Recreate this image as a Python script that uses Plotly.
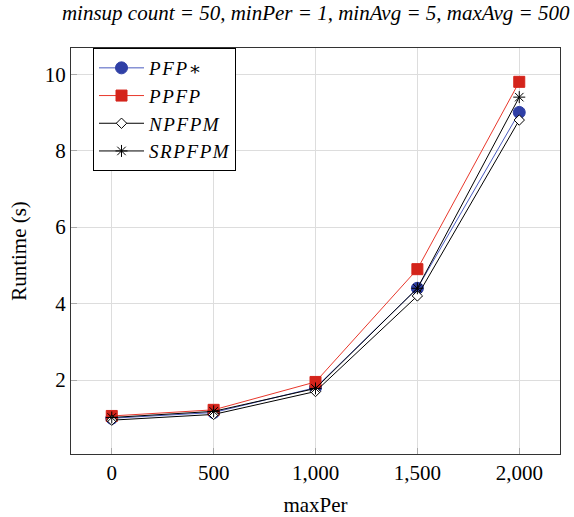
import plotly.graph_objects as go

max_per = [0, 500, 1000, 1500, 2000]
pfp_star = [1.0, 1.15, 1.8, 4.4, 9.0]
ppfp = [1.06, 1.22, 1.95, 4.9, 9.8]
npfpm = [0.95, 1.1, 1.7, 4.2, 8.8]
srpfpm = [1.02, 1.18, 1.78, 4.4, 9.4]
series_names = ["P\u200aF\u200aP\u200a∗", "P\u200aP\u200aF\u200aP",
                "N\u200aP\u200aF\u200aP\u200aM", "S\u200aR\u200aP\u200aF\u200aP\u200aM"]
x_tick_vals = [0, 500, 1000, 1500, 2000]
x_tick_text = ["0", "500", "1,000", "1,500", "2,000"]
y_tick_vals = [2, 4, 6, 8, 10]

serif = "'Times New Roman', 'Liberation Serif', 'DejaVu Serif', serif"

fig = go.Figure()
fig.add_trace(go.Scatter(x=max_per, y=pfp_star, name=series_names[0], mode="lines+markers",
                         line=dict(color="#4a5bbf", width=1),
                         marker=dict(symbol="circle", size=12, color="#2f3fa6",
                                     line=dict(color="#2f3fa6", width=1))))
fig.add_trace(go.Scatter(x=max_per, y=ppfp, name=series_names[1], mode="lines+markers",
                         line=dict(color="#e8382c", width=1),
                         marker=dict(symbol="square", size=11, color="#d4241b",
                                     line=dict(color="#d4241b", width=1))))
fig.add_trace(go.Scatter(x=max_per, y=npfpm, name=series_names[2], mode="lines+markers",
                         line=dict(color="black", width=1),
                         marker=dict(symbol="diamond", size=8, color="white",
                                     line=dict(color="black", width=1))))
fig.add_trace(go.Scatter(x=max_per, y=srpfpm, name=series_names[3], mode="lines+markers",
                         line=dict(color="black", width=1),
                         marker=dict(symbol="asterisk-open", size=10, color="black",
                                     line=dict(color="black", width=1))))

ymin = min(npfpm)
ymax = max(ppfp)
pad = 0.1 * (ymax - ymin)

fig.update_layout(
    width=574, height=517,
    margin=dict(l=71, r=14, t=48, b=63, autoexpand=False),
    paper_bgcolor="white", plot_bgcolor="white",
    font=dict(family=serif, size=21, color="black"),
    title=dict(text="<i>minsup count = 50, minPer = 1, minAvg = 5, maxAvg = 500</i>",
               x=0.55, xanchor="center", y=0.976, yanchor="middle", yref="container",
               pad=dict(t=0, b=0, l=0, r=0), automargin=False,
               font=dict(family=serif, size=21, color="black")),
    xaxis=dict(range=[-200, 2200], tickvals=x_tick_vals, ticktext=x_tick_text,
               showgrid=True, gridcolor="#dddddd", gridwidth=1,
               showline=True, linecolor="#333333", linewidth=1, mirror=True,
               ticks="inside", ticklen=6, tickcolor="#aaaaaa",
               zeroline=False, automargin=False,
               title=dict(text="maxPer", font=dict(family=serif, size=21), standoff=14)),
    yaxis=dict(range=[ymin - pad, ymax + pad], tickvals=y_tick_vals,
               showgrid=True, gridcolor="#dddddd", gridwidth=1,
               showline=True, linecolor="#333333", linewidth=1, mirror=True,
               ticks="inside", ticklen=6, tickcolor="#aaaaaa",
               zeroline=False, automargin=False,
               title=dict(text="Runtime (s)", font=dict(family=serif, size=21), standoff=12)),
    legend=dict(x=0.045, y=1.0, xanchor="left", yanchor="top",
                bgcolor="white", bordercolor="black", borderwidth=1,
                font=dict(family=serif, size=19, style="italic"),
                itemwidth=45, tracegroupgap=0,
                entrywidth=100, entrywidthmode="pixels"),
    showlegend=True,
)

fig.write_html("out.html", config={"displayModeBar": False},
               post_script="document.body.style.margin='0';")
